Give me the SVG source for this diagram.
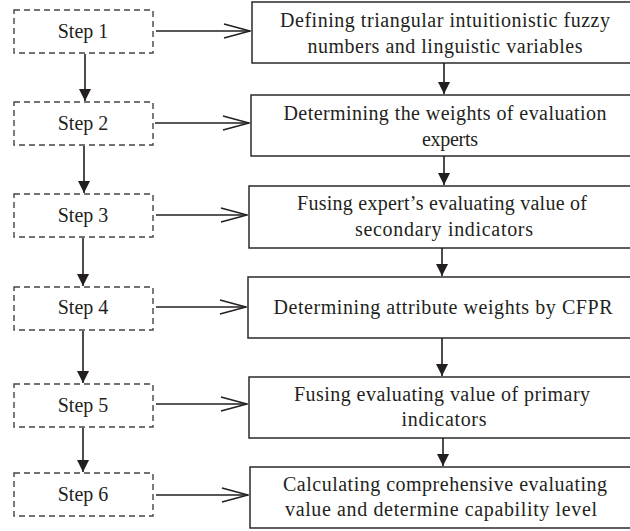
<svg xmlns="http://www.w3.org/2000/svg" width="630" height="531" viewBox="0 0 630 531">
<defs>
<style>
.step rect{fill:#fff;stroke:#444;stroke-width:1.4;stroke-dasharray:6,4}
.proc rect{fill:#fff;stroke:#2a2a2a;stroke-width:1.5}
text{font-family:"Liberation Serif","Times New Roman",serif;font-size:20px;fill:#231f20;text-anchor:middle}
.line{stroke:#231f20;stroke-width:1.6;fill:none}
</style>
<marker id="open" viewBox="0 0 28 16" refX="27" refY="8" markerWidth="28" markerHeight="16" markerUnits="userSpaceOnUse" orient="auto">
<path d="M1,1 L27,8 L1,15" fill="none" stroke="#231f20" stroke-width="1.6"/>
</marker>
<marker id="fill" viewBox="0 0 14 14" refX="13" refY="7" markerWidth="14" markerHeight="13" markerUnits="userSpaceOnUse" orient="auto">
<path d="M0,0.5 L13,7 L0,13.5 Z" fill="#231f20"/>
</marker>
</defs>
<g id="step1" class="step"><rect x="14" y="10" width="139" height="43"/><text x="83" y="38">Step 1</text></g>
<g id="step2" class="step"><rect x="14" y="102" width="139" height="43"/><text x="83" y="130">Step 2</text></g>
<g id="step3" class="step"><rect x="14" y="194" width="139" height="43"/><text x="83" y="222">Step 3</text></g>
<g id="step4" class="step"><rect x="14" y="287" width="139" height="43"/><text x="83" y="314">Step 4</text></g>
<g id="step5" class="step"><rect x="14" y="384" width="139" height="43"/><text x="83" y="412">Step 5</text></g>
<g id="step6" class="step"><rect x="14" y="473" width="139" height="43"/><text x="83" y="501">Step 6</text></g>
<g id="proc1" class="proc"><rect x="252" y="2" width="390" height="61"/><text x="445" y="27" textLength="330">Defining triangular intuitionistic fuzzy</text><text x="445" y="53" textLength="275">numbers and linguistic variables</text></g>
<g id="proc2" class="proc"><rect x="251" y="95" width="390" height="61"/><text x="445" y="120" textLength="323">Determining the weights of evaluation</text><text x="450" y="146" textLength="56">experts</text></g>
<g id="proc3" class="proc"><rect x="249" y="186" width="390" height="62"/><text x="442" y="210" textLength="290">Fusing expert’s evaluating value of</text><text x="444" y="236" textLength="178">secondary indicators</text></g>
<g id="proc4" class="proc"><rect x="248" y="277" width="390" height="61"/><text x="443" y="314" textLength="339">Determining attribute weights by CFPR</text></g>
<g id="proc5" class="proc"><rect x="249" y="377" width="390" height="61"/><text x="442" y="401" textLength="296">Fusing evaluating value of primary</text><text x="444" y="426" textLength="85">indicators</text></g>
<g id="proc6" class="proc"><rect x="250" y="467" width="390" height="61"/><text x="445" y="491" textLength="324">Calculating comprehensive evaluating</text><text x="441" y="516" textLength="312">value and determine capability level</text></g>
<g id="connectors" class="line">
<line x1="156" y1="31" x2="250" y2="31" marker-end="url(#open)"/>
<line x1="155" y1="123" x2="249" y2="123" marker-end="url(#open)"/>
<line x1="156" y1="215" x2="247" y2="215" marker-end="url(#open)"/>
<line x1="156" y1="307" x2="246" y2="307" marker-end="url(#open)"/>
<line x1="156" y1="404" x2="247" y2="404" marker-end="url(#open)"/>
<line x1="156" y1="495" x2="248" y2="495" marker-end="url(#open)"/>
<line x1="85" y1="54" x2="85" y2="101" marker-end="url(#fill)"/>
<line x1="84" y1="146" x2="84" y2="193" marker-end="url(#fill)"/>
<line x1="83" y1="238" x2="83" y2="286" marker-end="url(#fill)"/>
<line x1="83" y1="331" x2="83" y2="383" marker-end="url(#fill)"/>
<line x1="83" y1="428" x2="83" y2="472" marker-end="url(#fill)"/>
<line x1="444" y1="63" x2="444" y2="94" marker-end="url(#fill)"/>
<line x1="444" y1="156" x2="444" y2="185" marker-end="url(#fill)"/>
<line x1="442" y1="248" x2="442" y2="276" marker-end="url(#fill)"/>
<line x1="442" y1="338" x2="442" y2="376" marker-end="url(#fill)"/>
<line x1="443" y1="438" x2="443" y2="466" marker-end="url(#fill)"/>
</g>
</svg>
